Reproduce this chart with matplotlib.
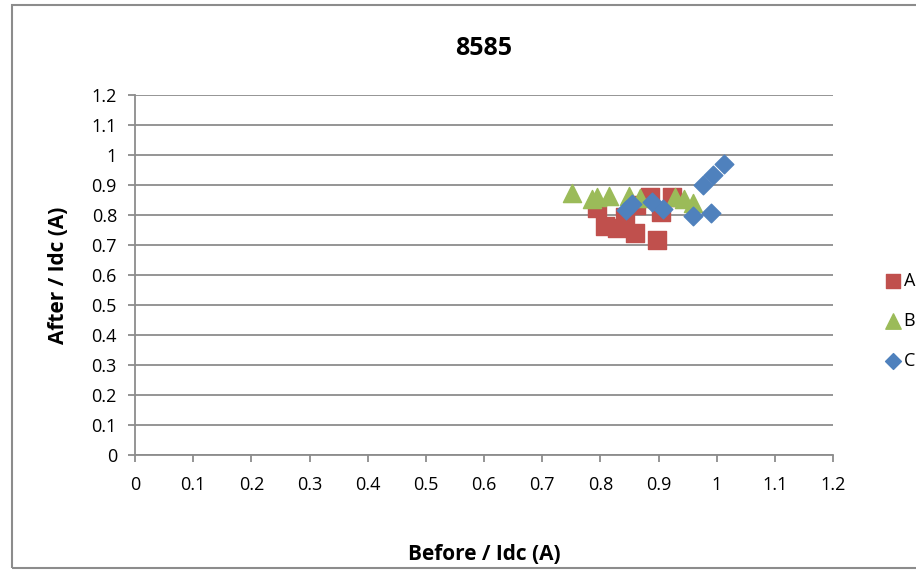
import matplotlib.pyplot as plt
from matplotlib.patches import Rectangle

plt.rcParams['font.family'] = ['Open Sans', 'DejaVu Sans']

# series values
a_x = [0.795, 0.808, 0.828, 0.842, 0.860, 0.862, 0.885, 0.897, 0.905, 0.923]
a_y = [0.822, 0.763, 0.756, 0.794, 0.741, 0.833, 0.861, 0.717, 0.811, 0.861]

b_x = [0.751, 0.785, 0.794, 0.815, 0.850, 0.868, 0.928, 0.943, 0.959]
b_y = [0.872, 0.852, 0.861, 0.864, 0.864, 0.856, 0.861, 0.852, 0.841]

c_x = [0.844, 0.855, 0.888, 0.908, 0.960, 0.991, 0.977, 0.994, 1.013]
c_y = [0.817, 0.838, 0.844, 0.819, 0.797, 0.808, 0.900, 0.933, 0.970]

ticks = [round(i * 0.1, 1) for i in range(13)]
tick_labels = ['0' if t == 0 else ('1' if t == 1 else f'{t:g}') for t in ticks]

fig = plt.figure(figsize=(9.16, 5.71), dpi=100)
ax = fig.add_axes([0.1474, 0.2032, 0.7620, 0.6304])

ax.scatter(a_x, a_y, marker='s', s=150, color='#C0504D', label='A', zorder=3)
ax.scatter(b_x, b_y, marker='^', s=170, color='#9BBB59', label='B', zorder=3)
ax.scatter(c_x, c_y, marker='D', s=90, color='#4F81BD', label='C', zorder=3)

ax.set_xlim(0, 1.2)
ax.set_ylim(0, 1.2)
ax.set_xticks(ticks)
ax.set_xticklabels(tick_labels)
ax.set_yticks(ticks)
ax.set_yticklabels(tick_labels)
ax.yaxis.grid(True, color='#8c8c8c', linewidth=1.3)
ax.set_axisbelow(True)
for side in ['top', 'right']:
    ax.spines[side].set_visible(False)
for side in ['left', 'bottom']:
    ax.spines[side].set_color('#8c8c8c')
    ax.spines[side].set_linewidth(1.3)
ax.tick_params(direction='out', length=5, width=1.3, color='#8c8c8c',
               labelsize=13)
ax.tick_params(axis='x', pad=10)
ax.tick_params(axis='y', pad=8)

ax.set_title('8585', fontsize=18, fontweight='bold', pad=29)
ax.set_xlabel('Before / Idc (A)', fontsize=15, fontweight='bold', labelpad=36)
ax.set_ylabel('After / Idc (A)', fontsize=15, fontweight='bold', labelpad=16)

fig.legend(loc='center left', bbox_to_anchor=(0.955, 0.438), frameon=False,
           fontsize=13, handletextpad=0.0, labelspacing=1.2, borderaxespad=0,
           markerscale=0.85, handlelength=1.2)

fig.patches.append(Rectangle((12 / 916, 3 / 571), 1.0, 563 / 571,
                             transform=fig.transFigure, fill=False,
                             edgecolor='#8c8c8c', linewidth=1.5))

fig.savefig('out.png', dpi=100)
